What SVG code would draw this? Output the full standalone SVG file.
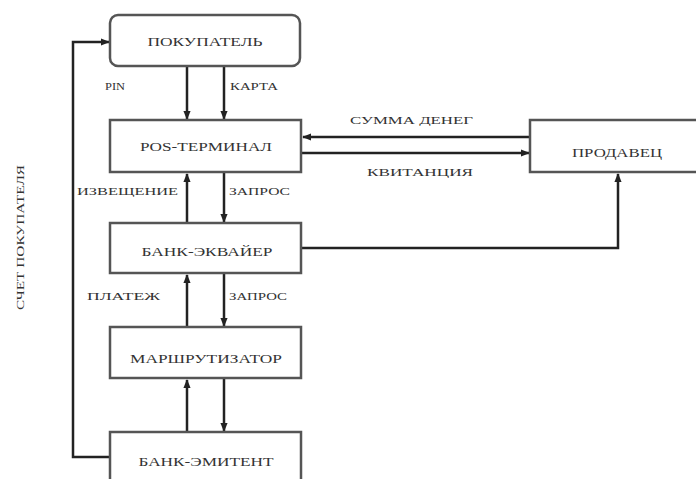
<svg xmlns="http://www.w3.org/2000/svg" width="696" height="479" viewBox="0 0 696 479">
<defs>
<marker id="ah" viewBox="0 0 10 10" refX="9" refY="5" markerWidth="9" markerHeight="9" orient="auto" markerUnits="userSpaceOnUse">
<path d="M0,1 L10,5 L0,9 z" fill="#222"/>
</marker>
<style>
.box{fill:#fff;stroke:#555;stroke-width:2.5}
.t{font-family:"Liberation Serif","Times New Roman",serif;font-size:12px;fill:#333;text-anchor:middle}
.l{font-family:"Liberation Serif","Times New Roman",serif;font-size:11px;fill:#333}
.c{fill:none;stroke:#222;stroke-width:2.5;marker-end:url(#ah)}
.p{fill:none;stroke:#222;stroke-width:2.5}
</style>
</defs>
<rect width="696" height="479" fill="#fff"/>
<g id="connectors">
<path class="c" d="M187,66 V119"/>
<path class="c" d="M224,66 V119"/>
<path class="c" d="M187,223 V174"/>
<path class="c" d="M224,173 V222"/>
<path class="c" d="M187,327 V275"/>
<path class="c" d="M224,274 V326"/>
<path class="c" d="M187,432 V380"/>
<path class="c" d="M224,379 V431"/>
<path class="c" d="M530,137 H303"/>
<path class="c" d="M301,153 H529"/>
<path class="c" d="M301,248 H618 V174"/>
<path class="c" d="M110,457 H73 V42 H109"/>
</g>
<g id="labels">
<text class="l" x="105" y="90" textLength="20" lengthAdjust="spacingAndGlyphs">PIN</text>
<text class="l" x="230" y="90" textLength="48" lengthAdjust="spacingAndGlyphs">КАРТА</text>
<text class="l" x="77" y="195" textLength="101" lengthAdjust="spacingAndGlyphs">ИЗВЕЩЕНИЕ</text>
<text class="l" x="229" y="195" textLength="61" lengthAdjust="spacingAndGlyphs">ЗАПРОС</text>
<text class="l" x="87" y="300" textLength="73" lengthAdjust="spacingAndGlyphs">ПЛАТЕЖ</text>
<text class="l" x="229" y="300" textLength="58" lengthAdjust="spacingAndGlyphs">ЗАПРОС</text>
<text class="l" x="350" y="124" textLength="123" lengthAdjust="spacingAndGlyphs">СУММА ДЕНЕГ</text>
<text class="l" x="367" y="176" textLength="106" lengthAdjust="spacingAndGlyphs">КВИТАНЦИЯ</text>
<text class="l" transform="translate(24,310) rotate(-90)" x="0" y="0" textLength="145" lengthAdjust="spacingAndGlyphs">СЧЕТ ПОКУПАТЕЛЯ</text>
</g>
<g id="pokupatel">
<rect class="box" x="110" y="15" width="190" height="51" rx="8"/>
<text class="t" x="205" y="46" textLength="115" lengthAdjust="spacingAndGlyphs">ПОКУПАТЕЛЬ</text>
</g>
<g id="pos">
<rect class="box" x="110" y="120" width="191" height="52"/>
<text class="t" x="206" y="151" textLength="132" lengthAdjust="spacingAndGlyphs">POS-ТЕРМИНАЛ</text>
</g>
<g id="ekvaier">
<rect class="box" x="110" y="223" width="191" height="50"/>
<text class="t" x="207" y="256" textLength="131" lengthAdjust="spacingAndGlyphs">БАНК-ЭКВАЙЕР</text>
</g>
<g id="marshrut">
<rect class="box" x="110" y="327" width="191" height="51"/>
<text class="t" x="206" y="363" textLength="152" lengthAdjust="spacingAndGlyphs">МАРШРУТИЗАТОР</text>
</g>
<g id="emitent">
<rect class="box" x="110" y="432" width="191" height="52"/>
<text class="t" x="206" y="466" textLength="135" lengthAdjust="spacingAndGlyphs">БАНК-ЭМИТЕНТ</text>
</g>
<g id="prodavec">
<rect class="box" x="530" y="120" width="170" height="52"/>
<text class="t" x="617" y="157" textLength="90" lengthAdjust="spacingAndGlyphs">ПРОДАВЕЦ</text>
</g>
</svg>
